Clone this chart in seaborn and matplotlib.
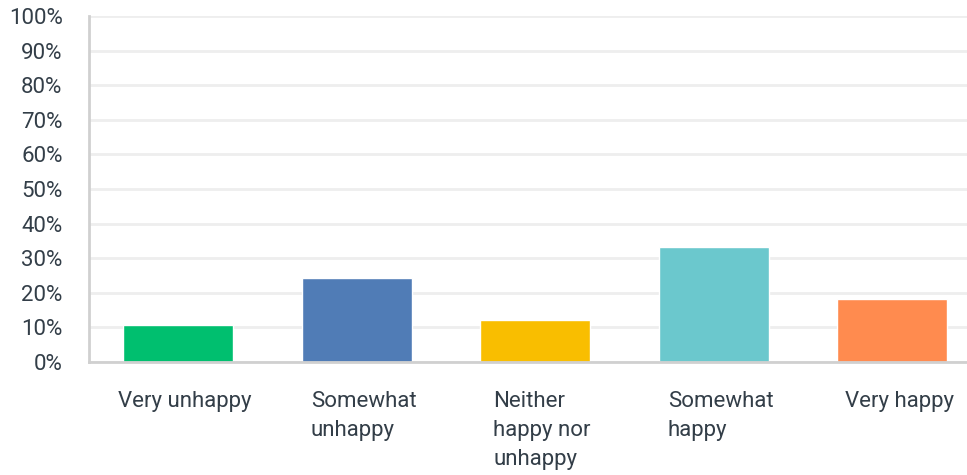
import matplotlib
matplotlib.use('Agg')
import matplotlib.pyplot as plt
import matplotlib.transforms as mtransforms
import pandas as pd
import seaborn as sns

answers = ['Very unhappy', 'Somewhat\nunhappy', 'Neither\nhappy nor\nunhappy',
           'Somewhat\nhappy', 'Very happy']
percent = [10.7, 24.3, 12.1, 33.2, 18.2]
colors = ['#00bf6f', '#507cb6', '#f9be00', '#6bc8cd', '#ff8b4f']

df = pd.DataFrame({'answer': answers, 'percent': percent})

sns.set_style('white')
plt.rcParams['font.family'] = ['Roboto', 'DejaVu Sans']

fig = plt.figure(figsize=(9.67, 4.75), dpi=100)
ax = fig.add_axes([89 / 967, 113 / 475, 878 / 967, 346 / 475])

sns.barplot(x='answer', y='percent', data=df, hue='answer', palette=colors,
            width=0.616, legend=False, ax=ax, saturation=1)

ax.set_ylim(0, 100)
ax.set_xlim(-0.5, 4.42)
ax.set_yticks(range(0, 101, 10))
ax.set_yticklabels([f'{v}%' for v in range(0, 101, 10)])
ax.set_xlabel('')
ax.set_ylabel('')

ax.grid(axis='y', color='#eeeeee', linewidth=2)
ax.set_axisbelow(True)
for s in ['top', 'right']:
    ax.spines[s].set_visible(False)
for s in ['left', 'bottom']:
    ax.spines[s].set_color('#d0d0d0')
    ax.spines[s].set_linewidth(2)

ax.tick_params(axis='both', length=0, labelcolor='#333e48', labelsize=16)
ax.tick_params(axis='y', pad=19)
ax.tick_params(axis='x', pad=21)

shift = mtransforms.ScaledTranslation(7 / 100, 0, fig.dpi_scale_trans)
for lab in ax.get_xticklabels():
    lab.set_multialignment('left')
    lab.set_linespacing(1.5)
    lab.set_transform(lab.get_transform() + shift)

plt.savefig('out.png', dpi=100)
